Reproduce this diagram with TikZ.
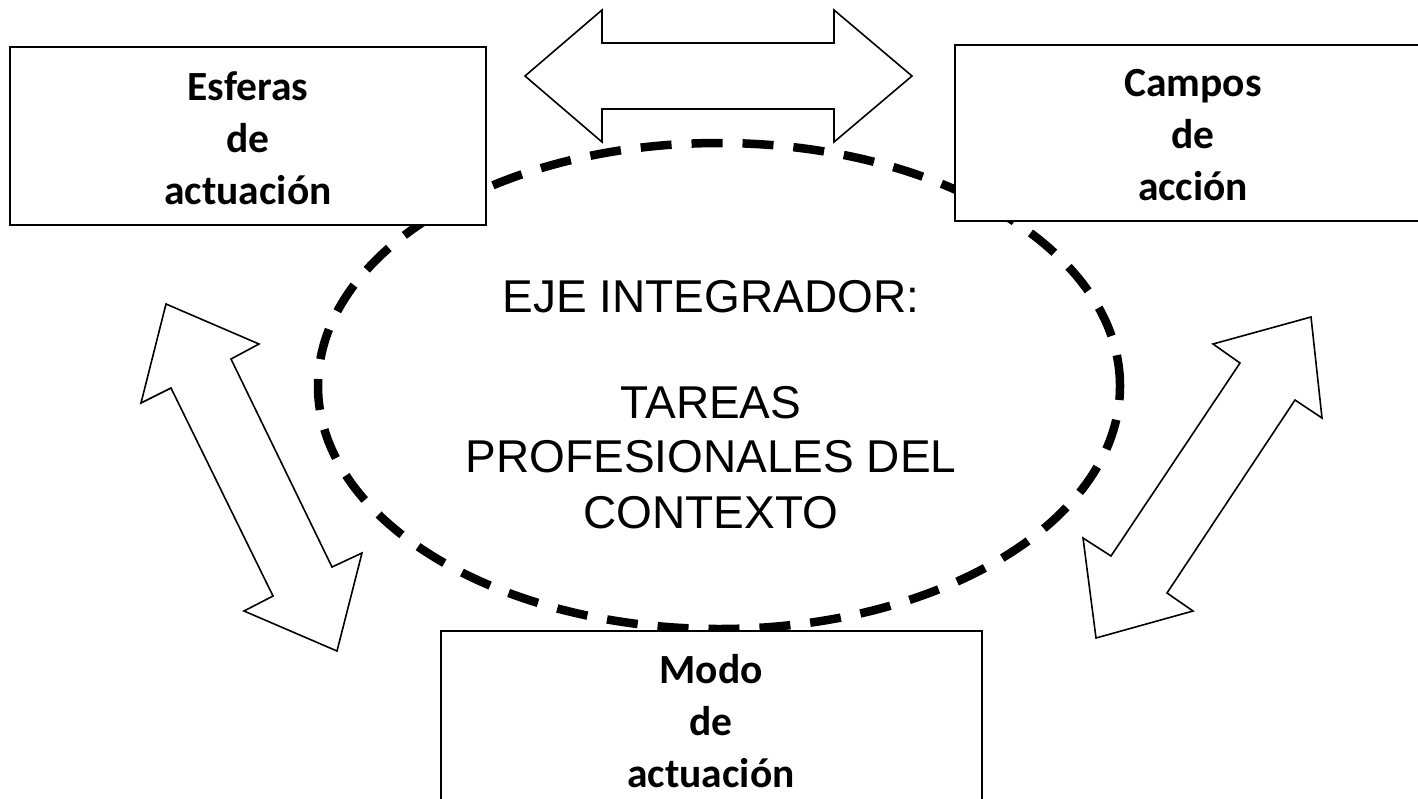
\documentclass[tikz,border=0pt]{standalone}
\usepackage{fontspec}
\setmainfont{Liberation Sans}
\newfontfamily\calib{Carlito}
\usetikzlibrary{shapes.geometric}
\begin{document}
\begin{tikzpicture}[x=1pt,y=-1pt,
  boxstyle/.style={draw, line width=1.6pt, fill=white, rectangle, inner sep=0pt, minimum width=476pt},
  boxtext/.style={font=\calib\bfseries\fontsize{41.5}{52}\selectfont, anchor=base, inner sep=0pt},
  ejetext/.style={font=\fontsize{46}{54}\selectfont, anchor=base, inner sep=0pt},
  dblarrow/.style={draw, fill=white, line width=1.6pt, line join=miter}]
\useasboundingbox (0,0) rectangle (1418,798);
\clip (0,0) rectangle (1418,798);
% dashed ellipse
\node[ellipse, draw, line width=8.5pt, dash pattern=on 31pt off 20pt, minimum width=802pt, minimum height=486pt, inner sep=0pt] (eje) at (719,386) {};
% boxes
\node[boxstyle, minimum height=178pt] (esferas) at (248,136) {};
\node[boxstyle, minimum height=176pt] (campos) at (1193,133) {};
\node[boxstyle, minimum width=541pt, minimum height=180pt] (modo) at (711.5,721) {};
% double arrows
\draw[dblarrow] (525,76) -- (602,10) -- (602,43) -- (834,43) -- (834,10) -- (912,76) -- (834,142) -- (834,109) -- (602,109) -- (602,142) -- cycle;
\draw[dblarrow] (166,304) -- (259,344) -- (231,359) -- (332,567) -- (362,553) -- (337,651) -- (244,611) -- (273,596) -- (171,388) -- (141,403) -- cycle;
\draw[dblarrow] (1311,317) -- (1322,418) -- (1295,400) -- (1167,593) -- (1193,611) -- (1096,638) -- (1083,538) -- (1111,556) -- (1240,363) -- (1213,344) -- cycle;
% box texts
\node[boxtext] (e1) at (248,100) {Esferas};
\node[boxtext] (e2) at (248,152) {de};
\node[boxtext] (e3) at (248,204) {actuación};
\node[boxtext] (c1) at (1193,96) {Campos};
\node[boxtext] (c2) at (1193,148) {de};
\node[boxtext] (c3) at (1193,200) {acción};
\node[boxtext] (m1) at (711,683) {Modo};
\node[boxtext] (m2) at (711,735) {de};
\node[boxtext] (m3) at (711,787) {actuación};
% centre texts
\node[ejetext] (t1) at (711,312) {EJE INTEGRADOR:};
\node[ejetext] (t2) at (711,418) {TAREAS};
\node[ejetext] (t3) at (711,472) {PROFESIONALES DEL};
\node[ejetext] (t4) at (711,528) {CONTEXTO};
\end{tikzpicture}
\end{document}
